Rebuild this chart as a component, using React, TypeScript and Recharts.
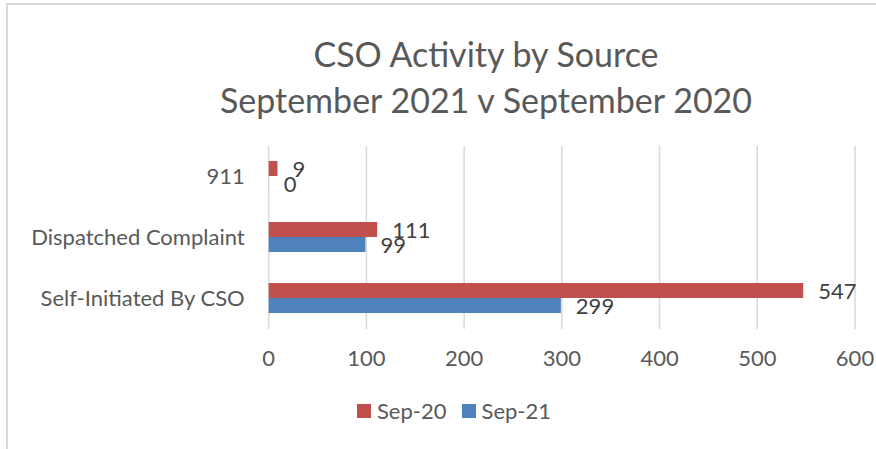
import React from 'react';
import { BarChart, Bar, XAxis, YAxis, CartesianGrid, LabelList } from 'recharts';

const categories = ['911', 'Dispatched Complaint', 'Self-Initiated By CSO'];
const sep20Values = [9, 111, 547];
const sep21Values = [0, 99, 299];
const seriesNames = ['Sep-20', 'Sep-21'];
const seriesColors = ['#C0504D', '#4F81BD'];
const xTicks = [0, 100, 200, 300, 400, 500, 600];
const titleLines = ['CSO Activity by Source', 'September 2021 v September 2020'];

const data = categories.map((c, i) => ({ name: c, sep20: sep20Values[i], sep21: sep21Values[i] }));

const FONT = 'Lato, "Open Sans", sans-serif';
const TEXT = '#595959';

const renderValueLabel = (props: any) => {
  const { x, y, width, height, value } = props;
  return (
    <text
      x={Number(x) + Number(width) + 15}
      y={Number(y) + Number(height) / 2}
      dominantBaseline="central"
      textAnchor="start"
      fill="#404040"
      fontSize={22}
      fontFamily={FONT}
    >
      {value}
    </text>
  );
};

export default function App() {
  return (
    <div style={{ position: 'absolute', left: 0, top: 0, width: 876, height: 449, background: '#fff', overflow: 'hidden', fontFamily: FONT }}>
      <div style={{ position: 'absolute', left: 6, top: 3, width: 900, height: 500, border: '2px solid #D9D9D9' }} />
      <svg width={876} height={449} style={{ position: 'absolute', left: 0, top: 0 }}>
        {titleLines.map((t, i) => (
          <text key={i} x={486} y={67 + i * 46} textAnchor="middle" fontSize={34} fill={TEXT} fontFamily={FONT}>{t}</text>
        ))}
      </svg>
      <div style={{ position: 'absolute', left: 0, top: 0 }}>
        <BarChart
          width={876}
          height={449}
          layout="vertical"
          data={data}
          margin={{ top: 146, right: 21, bottom: 80, left: 0 }}
          barCategoryGap="24.6%"
          barGap={0}
        >
          <CartesianGrid horizontal={false} stroke="#D9D9D9" strokeWidth={1.5} />
          <XAxis
            type="number"
            domain={[0, 600]}
            ticks={xTicks}
            axisLine={false}
            tickLine={false}
            tickSize={0}
            tickMargin={21}
            height={40}
            tick={{ fill: TEXT, fontSize: 22, fontFamily: FONT }}
          />
          <YAxis
            type="category"
            dataKey="name"
            width={268.7}
            axisLine={false}
            tickLine={false}
            tickSize={0}
            tickMargin={24}
            tick={{ fill: TEXT, fontSize: 22, fontFamily: FONT }}
          />
          <Bar dataKey="sep20" name={seriesNames[0]} fill={seriesColors[0]} isAnimationActive={false} minPointSize={0.01}>
            <LabelList dataKey="sep20" content={renderValueLabel} />
          </Bar>
          <Bar dataKey="sep21" name={seriesNames[1]} fill={seriesColors[1]} isAnimationActive={false} minPointSize={0.01}>
            <LabelList dataKey="sep21" content={renderValueLabel} />
          </Bar>
        </BarChart>
      </div>
      <div style={{ position: 'absolute', left: 357, top: 400, display: 'flex', alignItems: 'center', fontFamily: FONT, fontSize: 22, color: TEXT, lineHeight: '22px', whiteSpace: 'nowrap' }}>
        {seriesNames.map((n, i) => (
          <div key={n} style={{ display: 'flex', alignItems: 'center', marginRight: i === 0 ? 15 : 0 }}>
            <span style={{ display: 'inline-block', width: 14, height: 14, background: seriesColors[i], marginRight: 6 }} />
            <span>{n}</span>
          </div>
        ))}
      </div>
    </div>
  );
}
